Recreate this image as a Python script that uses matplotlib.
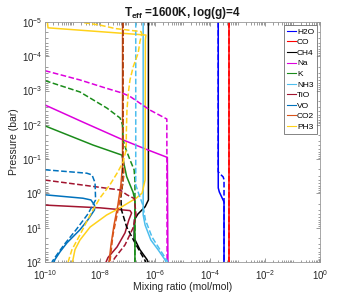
import numpy as np
import matplotlib
matplotlib.use("Agg")
import matplotlib.pyplot as plt
from matplotlib.ticker import FixedLocator, NullFormatter, LogFormatterSciNotation

plt.rcParams['font.family'] = ['Liberation Sans', 'DejaVu Sans']
plt.rcParams['mathtext.fontset'] = 'custom'
plt.rcParams['mathtext.rm'] = 'Liberation Sans'
plt.rcParams['mathtext.it'] = 'Liberation Sans:italic'
plt.rcParams['mathtext.bf'] = 'Liberation Sans:bold'

species = ['H2O', 'CO', 'CH4', 'Na', 'K', 'NH3', 'TiO', 'VO', 'CO2', 'PH3']
colors = ['#0000FF', '#FF0000', '#000000', '#DD00DD', '#1A8C1A',
          '#4DBEEE', '#A2142F', '#0072BD', '#D95319', '#FFD21A']

# log10 mixing ratio / log10 pressure (bar); solid = model A, dashed = model B
h2o_x_s = [-3.70, -3.70, -3.66, -3.56, -3.49, -3.49]
h2o_p_s = [-5.0, -0.16, -0.04, 0.13, 0.25, 2.0]
h2o_x_d = [-3.70, -3.70, -3.62, -3.52, -3.49, -3.49]
h2o_p_d = [-5.0, -0.63, -0.56, -0.48, -0.40, 2.0]

co_x_s = [-3.31, -3.31]
co_p_s = [-5.0, 2.0]
co_x_d = [-3.31, -3.31]
co_p_d = [-5.0, 2.0]

ch4_x_s = [-6.24, -6.24, -6.36, -6.62, -6.75, -6.76, -6.55, -6.29, -6.25]
ch4_p_s = [-5.0, 0.19, 0.39, 0.60, 0.77, 1.30, 1.64, 1.93, 2.0]
ch4_x_d = [-7.16, -7.16, -7.24, -7.22, -7.03, -6.73, -6.44, -6.33]
ch4_p_d = [-5.0, -0.39, 0.10, 0.48, 0.98, 1.44, 1.85, 2.0]

na_x_s = [-10.0, -8.62, -7.16, -6.36, -5.55, -5.53]
na_p_s = [-2.58, -2.08, -1.56, -1.30, -1.05, 2.0]
na_x_d = [-10.0, -8.73, -7.82, -7.20, -6.91, -6.18, -5.57, -5.56]
na_p_d = [-3.58, -3.31, -3.08, -2.93, -2.83, -2.43, -2.17, 2.0]

k_x_s = [-10.0, -8.25, -7.21, -7.16, -7.03, -6.80, -6.73, -6.73]
k_p_s = [-1.97, -1.41, -1.12, -0.98, -0.49, -0.04, 0.19, 2.0]
k_x_d = [-10.0, -8.73, -7.75, -7.27, -7.18, -7.16, -7.05, -6.91, -6.76, -6.73, -6.73]
k_p_d = [-3.29, -2.96, -2.49, -2.20, -2.00, -1.56, -1.27, -0.98, -0.69, -0.39, 2.0]

nh3_x_s = [-6.43, -6.43, -6.36, -6.15, -5.89, -5.64, -5.60]
nh3_p_s = [-5.0, 0.63, 0.92, 1.36, 1.64, 1.93, 2.0]
nh3_x_d = [-6.70, -6.70, -6.58, -6.44, -6.35, -6.11, -5.82, -5.53]
nh3_p_d = [-5.0, -0.25, 0.04, 0.34, 0.77, 1.27, 1.64, 2.0]

tio_x_s = [-10.0, -8.0, -6.91, -6.85, -6.95, -7.09, -7.38, -7.71, -7.78]
tio_p_s = [0.34, 0.42, 0.50, 0.57, 0.77, 1.15, 1.56, 1.87, 2.0]
tio_x_d = [-10.0, -7.27, -7.02, -6.75, -6.69, -6.80, -7.09, -7.45, -7.56]
tio_p_d = [-0.39, -0.10, 0.04, 0.15, 0.63, 1.01, 1.50, 1.87, 2.0]

vo_x_s = [-10.0, -8.62, -8.33, -8.20, -8.20, -8.44, -8.73, -9.20, -9.45, -9.64, -9.67]
vo_p_s = [0.04, 0.14, 0.19, 0.34, 0.48, 0.77, 1.06, 1.44, 1.70, 1.93, 2.0]
vo_x_d = [-10.0, -8.48, -8.29, -8.18, -8.16, -8.44, -8.87, -9.31, -9.64, -9.75]
vo_p_d = [-0.69, -0.59, -0.54, -0.31, 0.19, 0.60, 1.06, 1.50, 1.87, 2.0]

co2_x_s = [-7.18, -7.18, -7.24, -7.35, -7.49, -7.60, -7.67]
co2_p_s = [-5.0, -0.83, -0.25, 0.34, 0.92, 1.50, 2.0]
co2_x_d = [-7.16, -7.16, -7.13, -7.24, -7.38, -7.53, -7.64]
co2_p_d = [-5.0, -1.27, -0.54, 0.04, 0.63, 1.21, 2.0]

ph3_x_s = [-9.91, -9.89, -6.33, -6.35, -6.36, -6.47, -6.67, -7.27, -7.76, -8.36, -8.73, -8.91, -9.0]
ph3_p_s = [-4.97, -4.83, -4.62, -4.48, -0.39, -0.01, 0.13, 0.42, 0.63, 0.98, 1.36, 1.64, 2.0]
ph3_x_d = [-8.58, -8.0, -7.45, -6.51, -6.48, -6.55, -6.61, -6.79, -6.91, -6.97, -7.02, -7.04,
           -7.05, -7.16, -7.35, -7.64, -8.0, -8.36, -8.73, -9.02, -9.16]
ph3_p_d = [-4.98, -4.91, -4.81, -4.72, -4.65, -4.42, -4.10, -3.70, -3.31, -2.93, -2.43, -1.85,
           -1.27, -0.92, -0.63, -0.25, 0.13, 0.63, 1.21, 1.64, 2.0]

solid = [(h2o_x_s, h2o_p_s), (co_x_s, co_p_s), (ch4_x_s, ch4_p_s), (na_x_s, na_p_s),
         (k_x_s, k_p_s), (nh3_x_s, nh3_p_s), (tio_x_s, tio_p_s), (vo_x_s, vo_p_s),
         (co2_x_s, co2_p_s), (ph3_x_s, ph3_p_s)]
dashed = [(h2o_x_d, h2o_p_d), (co_x_d, co_p_d), (ch4_x_d, ch4_p_d), (na_x_d, na_p_d),
          (k_x_d, k_p_d), (nh3_x_d, nh3_p_d), (tio_x_d, tio_p_d), (vo_x_d, vo_p_d),
          (co2_x_d, co2_p_d), (ph3_x_d, ph3_p_d)]

x_major = [-10, -8, -6, -4, -2, 0]
y_major = [-5, -4, -3, -2, -1, 0, 1, 2]

fig = plt.figure(figsize=(3.54, 2.94), dpi=100)
ax = fig.add_axes([45 / 354, 1 - 262 / 294, 275 / 354, 240 / 294])

lw = 1.1
for name, c, (xs, ps) in zip(species, colors, solid):
    ax.plot(10.0 ** np.array(xs), 10.0 ** np.array(ps), '-', color=c, lw=lw, label=name)
for name, c, (xs, ps) in zip(species, colors, dashed):
    ax.plot(10.0 ** np.array(xs), 10.0 ** np.array(ps), '--', color=c, lw=lw)

ax.set_xscale('log')
ax.set_yscale('log')
ax.set_xlim(1e-10, 1e0)
ax.set_ylim(1e2, 1e-5)

ax.xaxis.set_major_locator(FixedLocator(10.0 ** np.array(x_major, dtype=float)))
ax.yaxis.set_major_locator(FixedLocator(10.0 ** np.array(y_major, dtype=float)))
xminor = [k * 10.0 ** n for n in range(-10, 0) for k in range(1, 10) if not (k == 1 and n % 2 == 0)]
yminor = [k * 10.0 ** n for n in range(-5, 2) for k in range(2, 10)]
ax.xaxis.set_minor_locator(FixedLocator(xminor))
ax.yaxis.set_minor_locator(FixedLocator(yminor))
ax.xaxis.set_minor_formatter(NullFormatter())
ax.yaxis.set_minor_formatter(NullFormatter())
ax.xaxis.set_major_formatter(LogFormatterSciNotation())
ax.yaxis.set_major_formatter(LogFormatterSciNotation())

ax.tick_params(which='both', direction='in', top=True, right=True, color='0.45',
               labelcolor='0.15', labelsize=7, width=0.5)
ax.tick_params(which='major', length=3)
ax.tick_params(which='minor', length=1.8)
ax.tick_params(axis='x', pad=4.5)
ax.tick_params(axis='y', pad=2)
for s in ax.spines.values():
    s.set_color('0.6')
    s.set_linewidth(0.6)

ax.set_xlabel('Mixing ratio (mol/mol)', fontsize=7.5, color='0.15', labelpad=0)
ax.set_ylabel('Pressure (bar)', fontsize=7.5, color='0.15', labelpad=2)
ax.set_title(r'$\mathbf{T_{eff}}$ =1600K, log(g)=4', fontsize=8.5, fontweight='bold',
             color='0.1', pad=4)

leg = ax.legend(loc='upper right', fontsize=6.0, handlelength=1.1, handletextpad=0.15,
                labelspacing=0.33, borderpad=0.35, borderaxespad=0.35, frameon=True,
                fancybox=False, edgecolor='0.3')
leg.get_frame().set_linewidth(0.6)
for h in leg.get_lines():
    h.set_linewidth(0.8)

fig.savefig('out.png', dpi=100)
